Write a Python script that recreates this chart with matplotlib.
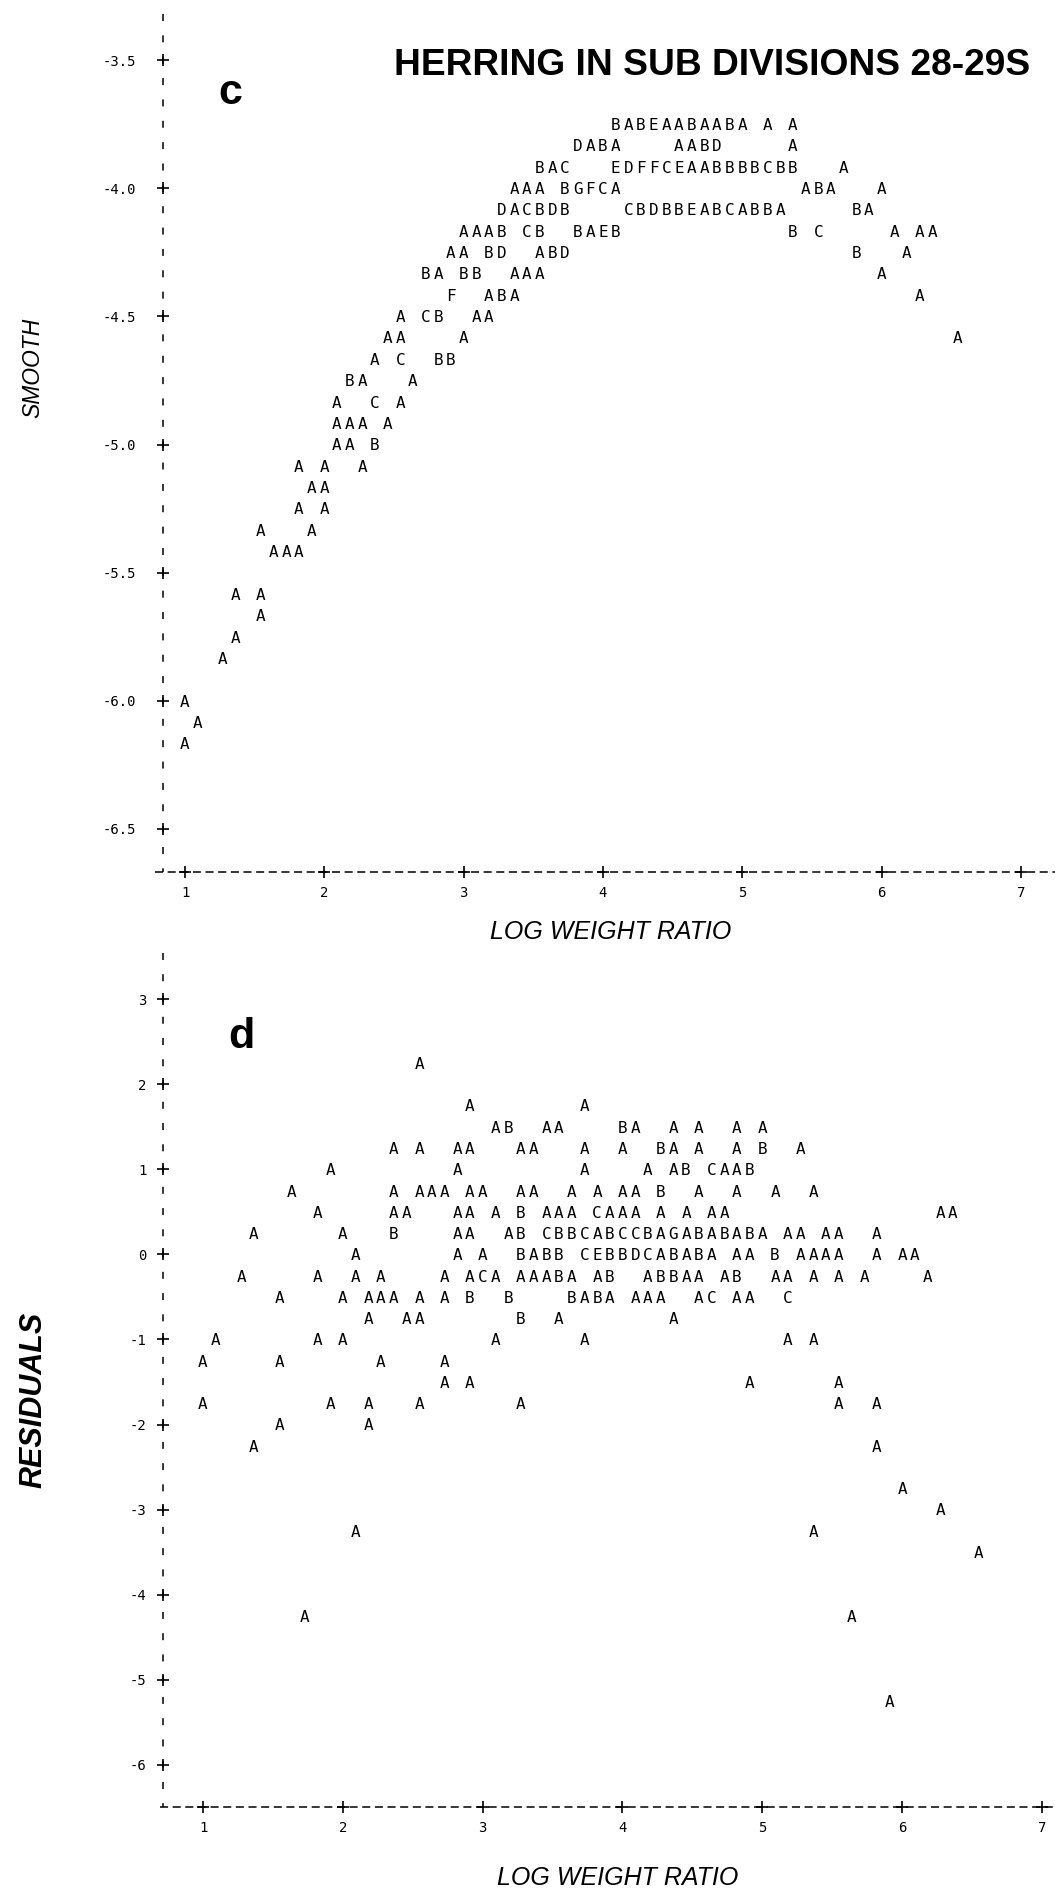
import matplotlib
matplotlib.use("Agg")
import matplotlib.pyplot as plt
import matplotlib.transforms as mtransforms

plt.rcParams['lines.scale_dashes'] = False

# line printer grid: 11 print columns per unit of log weight ratio, column 0 on x = 1
COLS_PER_UNIT = 11
X0 = 1

x_ticks = [1, 2, 3, 4, 5, 6, 7]

# panel c: smoothed values, printed segments (row value, first column, letters)
smooth_y = [
    -3.750,
    -3.833, -3.833, -3.833,
    -3.917, -3.917, -3.917,
    -4.000, -4.000, -4.000,
    -4.083, -4.083, -4.083,
    -4.167, -4.167, -4.167,
    -4.250, -4.250, -4.250,
    -4.333, -4.333,
    -4.417, -4.417,
    -4.500,
    -4.583, -4.583,
    -4.667, -4.750, -4.833, -4.917, -5.000,
    -5.083, -5.167, -5.250, -5.333, -5.417,
    -5.583, -5.667, -5.750, -5.833,
    -6.000, -6.083, -6.167,
]
smooth_col = [
    34,
    31, 39, 48,
    28, 34, 52,
    26, 49, 55,
    25, 35, 53,
    22, 48, 56,
    21, 53, 57,
    19, 55,
    21, 58,
    17,
    16, 61,
    15, 13, 12, 12, 12,
    9, 10, 9, 6, 7,
    4, 6, 4, 3,
    0, 1, 0,
]
smooth_txt = [
    "BABEAABAABA A A",
    "DABA", "AABD", "A",
    "BAC", "EDFFCEAABBBBCBB", "A",
    "AAA BGFCA", "ABA", "A",
    "DACBDB", "CBDBBEABCABBA", "BA",
    "AAAB CB  BAEB", "B C", "A AA",
    "AA BD  ABD", "B", "A",
    "BA BB  AAA", "A",
    "F  ABA", "A",
    "A CB  AA",
    "AA    A", "A",
    "A C  BB", "BA   A", "A  C A", "AAA A", "AA B",
    "A A  A", "AA", "A A", "A   A", "AAA",
    "A A", "A", "A", "A",
    "A", "A", "A",
]
smooth_ticks = [-3.5, -4.0, -4.5, -5.0, -5.5, -6.0, -6.5]

# panel d: residuals, same layout
resid_y = [
    2.25,
    1.75, 1.75,
    1.5,
    1.25,
    1.0, 1.0, 1.0, 1.0,
    0.75, 0.75,
    0.5, 0.5, 0.5,
    0.25, 0.25, 0.25, 0.25, 0.25,
    0.0, 0.0,
    -0.25, -0.25, -0.25, -0.25,
    -0.5,
    -0.75, -0.75, -0.75,
    -1.0, -1.0, -1.0, -1.0, -1.0,
    -1.25, -1.25, -1.25, -1.25,
    -1.5, -1.5, -1.5,
    -1.75, -1.75, -1.75, -1.75, -1.75, -1.75, -1.75,
    -2.0, -2.0,
    -2.25, -2.25,
    -2.75, -3.0, -3.25, -3.25, -3.5,
    -4.25, -4.25, -5.25,
]
resid_col = [
    17,
    21, 30,
    23,
    15,
    10, 20, 30, 35,
    7, 15,
    9, 15, 58,
    4, 11, 15, 20, 24,
    12, 20,
    3, 9, 12, 19,
    6,
    13, 25, 37,
    1, 9, 23, 30, 46,
    0, 6, 14, 19,
    19, 43, 50,
    0, 10, 13, 17, 25, 50, 53,
    6, 13,
    4, 53,
    55, 58, 12, 48, 61,
    8, 51, 54,
]
resid_txt = [
    "A",
    "A", "A",
    "AB  AA    BA  A A  A A",
    "A A  AA   AA   A  A  BA A  A B  A",
    "A", "A", "A", "A AB CAAB",
    "A", "A AAA AA  AA  A A AA B  A  A  A  A",
    "A", "AA   AA A B AAA CAAA A A AA", "AA",
    "A", "A", "B", "AA", "AB CBBCABCCBAGABABABA AA AA  A",
    "A", "A A  BABB CEBBDCABABA AA B AAAA  A AA",
    "A", "A", "A A", "A ACA AAABA AB  ABBAA AB  AA A A A    A",
    "A    A AAA A A B  B    BABA AAA  AC AA  C",
    "A  AA", "B  A", "A",
    "A", "A A", "A", "A", "A A",
    "A", "A", "A", "A",
    "A A", "A", "A",
    "A", "A", "A", "A", "A", "A", "A",
    "A", "A",
    "A", "A",
    "A", "A", "A", "A", "A",
    "A", "A", "A",
]
resid_ticks = [3, 2, 1, 0, -1, -2, -3, -4, -5, -6]

MONO = 'DejaVu Sans Mono'
SANS = 'Liberation Sans'

W, H = 1055, 1893
fig = plt.figure(figsize=(W / 100, H / 100), dpi=100)


def px_axes(left, top, right, bottom):
    return fig.add_axes([left / W, 1 - bottom / H, (right - left) / W, (bottom - top) / H])


def printer_panel(ax, ys, cols, texts, yticks, ylabels, row_step, y_top, x_start, ypad):
    x_lo, x_hi = ax.get_xlim()
    y_lo = ax.get_ylim()[0]
    ppu = ax.transData.transform((0, 1))[1] - ax.transData.transform((0, 0))[1]
    pt = 72 / fig.dpi
    bar = 7.0
    # vertical axis: one short bar per printed row
    ax.plot([x_lo, x_lo], [y_top + bar / 2 / ppu, y_lo], color='k', lw=1.1,
            dashes=(bar * pt, (row_step * ppu - bar) * pt), clip_on=False)
    # horizontal axis: a dash per print column
    ax.plot([x_start, x_hi], [y_lo, y_lo], color='k', lw=1.1, dashes=(5.8, 3.3), clip_on=False)
    ax.plot([x_lo] * len(yticks), yticks, ls='none', marker='+', ms=8, mew=1.2,
            color='k', clip_on=False)
    ax.plot(x_ticks, [y_lo] * len(x_ticks), ls='none', marker='+', ms=8, mew=1.2,
            color='k', clip_on=False)

    ax.set_xticks(x_ticks, [str(v) for v in x_ticks])
    ax.set_yticks(yticks, ylabels)
    ax.tick_params(length=0, labelsize=10, labelfontfamily=MONO)
    ax.tick_params(axis='x', pad=10)
    ax.tick_params(axis='y', pad=ypad)
    for s in ax.spines.values():
        s.set_visible(False)

    trans = mtransforms.offset_copy(ax.transData, fig=fig, y=-5.8, units='dots')
    for y, c, s in zip(ys, cols, texts):
        for i, ch in enumerate(s):
            if ch != ' ':
                ax.text(X0 + (c + i) / COLS_PER_UNIT, y, ch, transform=trans,
                        ha='center', va='baseline', family=MONO, fontsize=11.5)


ax_c = px_axes(163, 0, 1055, 871.7)
ax_c.set_xlim(0.8421, 7.2442)
ax_c.set_ylim(-6.6667, -3.2656)
printer_panel(ax_c, smooth_y, smooth_col, smooth_txt, smooth_ticks,
              ['%.1f' % v for v in smooth_ticks], 1 / 12, -3.3333, 0.7847, 19)

ax_d = px_axes(163, 940, 1055, 1807.1)
ax_d.set_xlim(0.7139, 7.0931)
ax_d.set_ylim(-6.5, 3.6987)
printer_panel(ax_d, resid_y, resid_col, resid_txt, resid_ticks,
              [str(v) for v in resid_ticks], 0.25, 3.5, 0.6924, 12)

fig.text(1030 / W, 1 - 75 / H, "HERRING IN SUB DIVISIONS 28-29S", ha='right', va='baseline',
         fontsize=26.7, fontweight='bold', family=SANS)
fig.text(230 / W, 1 - 104 / H, 'c', ha='center', va='baseline', fontsize=31,
         fontweight='bold', family=SANS)
fig.text(241 / W, 1 - 1048 / H, 'd', ha='center', va='baseline', fontsize=31,
         fontweight='bold', family=SANS)

fig.text(611 / W, 1 - 932 / H, 'LOG WEIGHT RATIO', ha='center', va='center',
         fontsize=18, style='italic', family=SANS)
fig.text(618 / W, 1 - 1878 / H, 'LOG WEIGHT RATIO', ha='center', va='center',
         fontsize=18, style='italic', family=SANS)
fig.text(33 / W, 1 - 368 / H, 'SMOOTH', rotation=90, ha='center', va='center',
         fontsize=16.5, style='italic', family=SANS)
fig.text(33 / W, 1 - 1400 / H, 'RESIDUALS', rotation=90, ha='center', va='center',
         fontsize=22, style='italic', fontweight='bold', family=SANS)

fig.savefig('out.png', dpi=100, facecolor='white')
